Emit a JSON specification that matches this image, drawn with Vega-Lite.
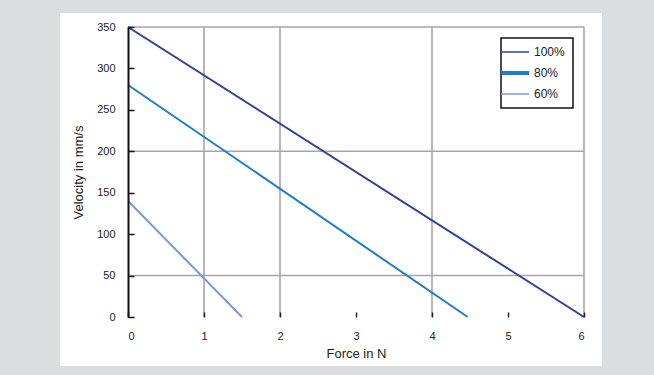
{
  "$schema": "https://vega.github.io/schema/vega-lite/v6.json",
  "width": 456,
  "height": 290,
  "autosize": {"type": "none"},
  "padding": {"left": 128, "top": 27, "right": 70, "bottom": 58},
  "background": "#dcdddf",
  "config": {
    "font": "Liberation Sans",
    "view": {"stroke": null},
    "axis": {"grid": false}
  },
  "datasets": {
    "series": [
      {"force": 0, "velocity": 350, "level": "100%"},
      {"force": 6, "velocity": 0, "level": "100%"},
      {"force": 0, "velocity": 280, "level": "80%"},
      {"force": 4.47, "velocity": 0, "level": "80%"},
      {"force": 0, "velocity": 140, "level": "60%"},
      {"force": 1.5, "velocity": 0, "level": "60%"}
    ],
    "gridx": [{"gx": 1}, {"gx": 2}, {"gx": 4}, {"gx": 6}],
    "gridy": [{"gy": 50}, {"gy": 200}, {"gy": 350}]
  },
  "layer": [
    {
      "data": {"values": [{"panel": "frame"}]},
      "mark": {"type": "rect", "fill": "white", "clip": false},
      "encoding": {
        "x": {"datum": -0.895, "type": "quantitative", "scale": {"domain": [0, 6], "nice": false, "zero": false}},
        "x2": {"datum": 6.237},
        "y": {"datum": 366.9, "type": "quantitative", "scale": {"domain": [0, 350], "nice": false, "zero": false}},
        "y2": {"datum": -59.1}
      }
    },
    {
      "data": {"name": "gridx"},
      "mark": {"type": "rule", "color": "#a6a6a6", "strokeWidth": 1.6},
      "encoding": {"x": {"field": "gx", "type": "quantitative"}}
    },
    {
      "data": {"name": "gridy"},
      "mark": {"type": "rule", "color": "#a6a6a6", "strokeWidth": 1.6},
      "encoding": {"y": {"field": "gy", "type": "quantitative"}}
    },
    {
      "data": {"name": "series"},
      "mark": {"type": "line", "strokeWidth": 2},
      "encoding": {
        "x": {
          "field": "force",
          "type": "quantitative",
          "axis": {
            "title": "Force in N",
            "zindex": 2,
            "values": [0, 1, 2, 3, 4, 5, 6],
            "format": "d",
            "domain": false,
            "tickColor": "#222222",
            "tickSize": -5,
            "tickWidth": 1.5,
            "labelPadding": 18,
            "labelFontSize": 11,
            "labelColor": "#222222",
            "titleFontSize": 13,
            "titleFontWeight": "normal",
            "titleColor": "#222222",
            "titlePadding": 6
          }
        },
        "y": {
          "field": "velocity",
          "type": "quantitative",
          "axis": {
            "title": "Velocity in mm/s",
            "zindex": 2,
            "values": [0, 50, 100, 150, 200, 250, 300, 350],
            "domainColor": "#111111",
            "domainWidth": 2,
            "tickColor": "#111111",
            "tickSize": -6,
            "tickWidth": 1.5,
            "labelPadding": 19,
            "labelFontSize": 11,
            "labelColor": "#222222",
            "titleFontSize": 13,
            "titleFontWeight": "normal",
            "titleColor": "#222222",
            "titlePadding": 11
          }
        },
        "color": {
          "field": "level",
          "type": "nominal",
          "scale": {"domain": ["100%", "80%", "60%"], "range": ["#2f3f9c", "#1d7ccd", "#7e96dc"]},
          "legend": {
            "title": null,
            "orient": "top-right",
            "offset": 11,
            "symbolType": "stroke",
            "symbolSize": 800,
            "symbolStrokeWidth": 1.5,
            "labelOffset": 13,
            "labelFontSize": 12,
            "labelColor": "#222222",
            "rowPadding": 7,
            "padding": 8,
            "strokeColor": "#111111",
            "fillColor": "white",
            "encode": {
              "symbols": {"update": {"strokeWidth": {"signal": "datum.value === '80%' ? 4 : 1.5"}}},
              "legend": {"update": {"strokeWidth": {"value": 1.5}}}
            }
          }
        }
      }
    }
  ]
}
